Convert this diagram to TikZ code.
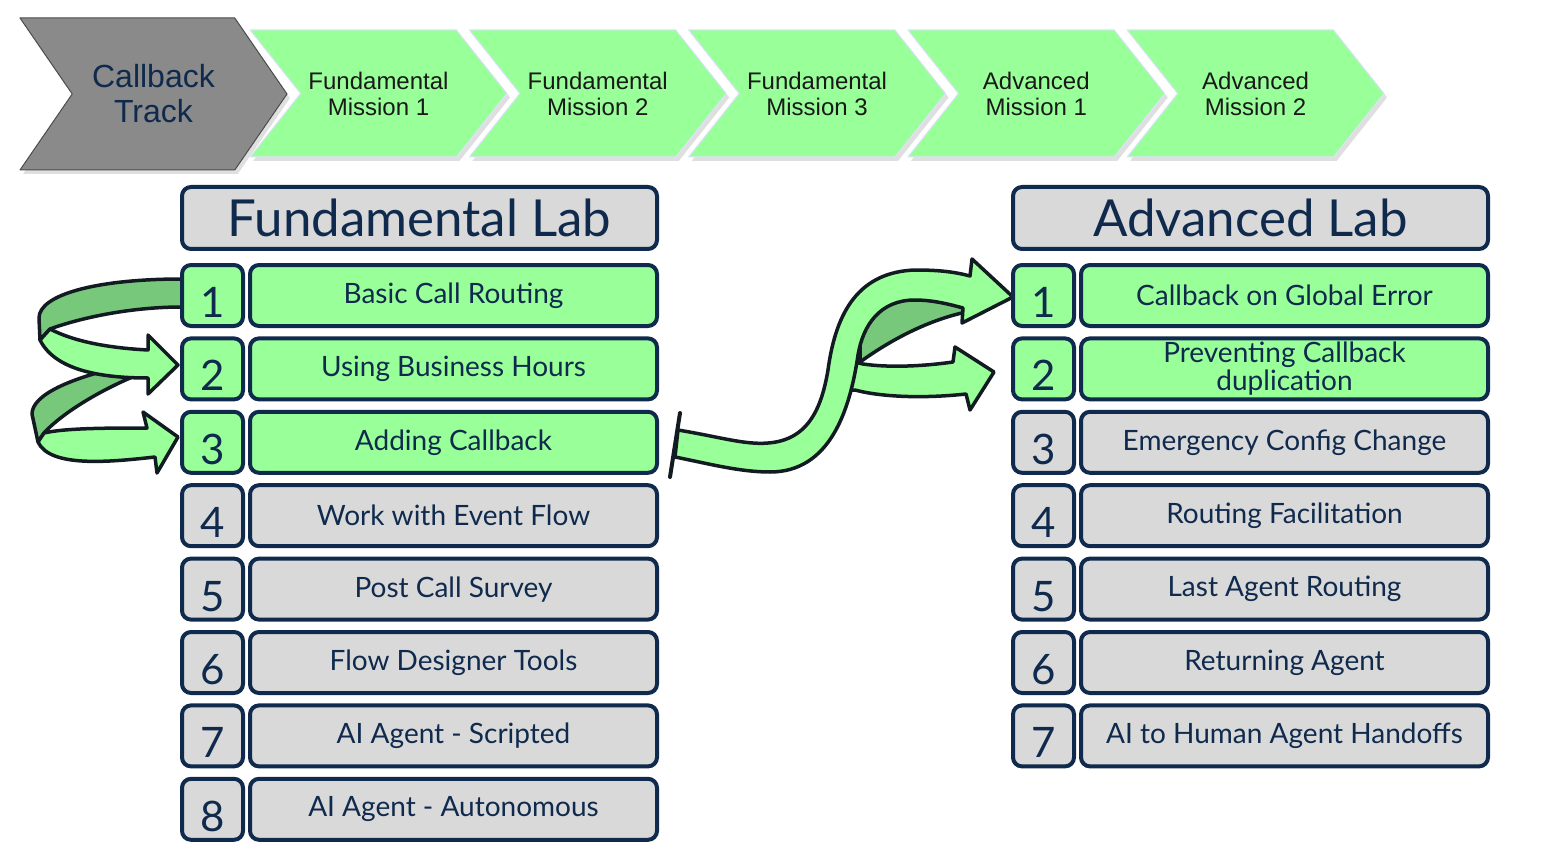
\documentclass[tikz,border=0pt]{standalone}
\usepackage{fontspec}
\setmainfont{Lato}
\newfontfamily\chevronfont{Liberation Sans}
\usetikzlibrary{positioning, shapes.symbols, shadows}

\definecolor{labgreen}{HTML}{99FF99}
\definecolor{bandgreen}{HTML}{78C87C}
\definecolor{labgray}{HTML}{D9D9D9}
\definecolor{labnavy}{HTML}{0F2A4D}
\definecolor{arrowink}{HTML}{131B22}
\definecolor{trackgray}{HTML}{8A8A8A}

\begin{document}
\begin{tikzpicture}[x=1pt,y=-1pt,node distance=8.4pt and 3pt,line join=round]

		\tikzset{num box/.style={draw=labnavy, line width=4pt,
				rounded corners=9pt, minimum width=61pt, minimum height=61pt,
				inner sep=0pt, text height=44pt, text depth=0pt,
				font=\fontsize{42}{42}\selectfont, text=labnavy}}
		\tikzset{item box/.style={draw=labnavy, line width=4pt,
				rounded corners=9pt, minimum width=407pt, minimum height=61pt,
				inner sep=0pt, align=center,
				font=\fontsize{28}{28}\selectfont, text=labnavy}}
		\tikzset{lab title/.style={item box, fill=labgray,
				minimum width=475pt, minimum height=62pt,
				font=\fontsize{51}{51}\selectfont}}
		\tikzset{done/.style={fill=labgreen}}
		\tikzset{todo/.style={fill=labgray}}
		\tikzset{mission/.style={signal, signal to=east, signal from=west,
				signal pointer angle=103, fill=labgreen, draw=blue!12,
				line width=1pt, minimum width=257pt, minimum height=127pt,
				inner sep=0pt, align=center, text=black!90,
				font=\chevronfont\fontsize{24}{26}\selectfont,
				drop shadow={shadow xshift=3pt, shadow yshift=-4pt, opacity=.25}}}
		\tikzset{track/.style={mission, fill=trackgray, draw=gray!60!black,
				signal pointer angle=111, minimum width=267pt,
				minimum height=152pt, text=labnavy,
				font=\chevronfont\fontsize{32}{35}\selectfont}}
		\tikzset{band/.style={draw=arrowink, line width=3.5pt, fill=labgreen}}
		\tikzset{band back/.style={band, fill=bandgreen}}

	\useasboundingbox (0,0) rectangle (1554,850);

	% top track
	\node[track] (CT) at (153.5,94) {Callback\\Track};
	\node[mission] (M1) at (378.5,93.5) {Fundamental\\Mission 1};
	\node[mission, right=11.5pt of M1] (M2) {Fundamental\\Mission 2};
	\node[mission, right=11.5pt of M2] (M3) {Fundamental\\Mission 3};
	\node[mission, right=11.5pt of M3] (M4) {Advanced\\Mission 1};
	\node[mission, right=11.5pt of M4] (M5) {Advanced\\Mission 2};

	% loops on the left
	\draw[band back] (182,279) .. controls (95,279) and (39,295) .. (39,318)
		-- (40,340) -- (50,329) .. controls (80,318) and (130,307) .. (182,307) -- cycle;
	\draw[band back] (125,366) .. controls (70,378) and (32,395) .. (32,414)
		-- (38,442) -- (44,433) .. controls (65,410) and (110,385) .. (145,372) -- cycle;
	\draw[band] (50,329) .. controls (75,342) and (110,348) .. (148,350)
		-- (148,335) -- (178,365) -- (148,394) -- (148,378)
		.. controls (100,378) and (55,370) .. (40,340) -- cycle;
	\draw[band] (44,433) .. controls (65,428) and (110,428) .. (147,428)
		-- (143,412) -- (178,437) -- (157,473) -- (155,457)
		.. controls (110,462) and (50,468) .. (38,442) -- cycle;

	% jump to the advanced lab
	\draw[band back] (860,362) .. controls (895,337) and (930,320) .. (966,312)
		-- (966,295) -- (900,290) -- (860,320) -- cycle;
	\draw[band] (845,360) -- (863,364) .. controls (890,368) and (925,366) .. (953,362)
		-- (955,347) -- (994,372) -- (970,410) -- (966,394)
		.. controls (930,398) and (885,398) .. (855,390) -- (845,390) -- cycle;
	\draw[band] (678,430) .. controls (720,437) and (745,445) .. (768,443)
		.. controls (810,440) and (822,405) .. (828,370)
		.. controls (836,310) and (860,272) .. (915,270)
		.. controls (940,270) and (955,272) .. (970,276)
		-- (972,259) -- (1013,297) -- (962,323) -- (963,308)
		.. controls (945,303) and (930,300) .. (915,300)
		.. controls (880,300) and (863,325) .. (858,355)
		.. controls (850,410) and (830,472) .. (770,472)
		.. controls (740,472) and (710,464) .. (675,457) -- cycle;
	\draw[arrowink, line width=4pt, line cap=round] (680,413) -- (670,477);

	% fundamental lab
	\node[lab title] (FL) at (419.5,218) {Fundamental Lab};
	\node[num box, done, below right=12pt and 0pt of FL.south west] (F1) {1};
	\node[item box, done, right=of F1] (F1t) {Basic Call Routing};
	\node[num box, done, below=of F1] (F2) {2};
	\node[item box, done, right=of F2] (F2t) {Using Business Hours};
	\node[num box, done, below=of F2] (F3) {3};
	\node[item box, done, right=of F3] (F3t) {Adding Callback};
	\node[num box, todo, below=of F3] (F4) {4};
	\node[item box, todo, right=of F4] (F4t) {Work with Event Flow};
	\node[num box, todo, below=of F4] (F5) {5};
	\node[item box, todo, right=of F5] (F5t) {Post Call Survey};
	\node[num box, todo, below=of F5] (F6) {6};
	\node[item box, todo, right=of F6] (F6t) {Flow Designer Tools};
	\node[num box, todo, below=of F6] (F7) {7};
	\node[item box, todo, right=of F7] (F7t) {AI Agent - Scripted};
	\node[num box, todo, below=of F7] (F8) {8};
	\node[item box, todo, right=of F8] (F8t) {AI Agent - Autonomous};

	% advanced lab
	\node[lab title] (AL) at (1250.5,218) {Advanced Lab};
	\node[num box, done, below right=12pt and 0pt of AL.south west] (A1) {1};
	\node[item box, done, right=of A1] (A1t) {Callback on Global Error};
	\node[num box, done, below=of A1] (A2) {2};
	\node[item box, done, right=of A2] (A2t) {Preventing Callback\\duplication};
	\node[num box, todo, below=of A2] (A3) {3};
	\node[item box, todo, right=of A3] (A3t) {Emergency Config Change};
	\node[num box, todo, below=of A3] (A4) {4};
	\node[item box, todo, right=of A4] (A4t) {Routing Facilitation};
	\node[num box, todo, below=of A4] (A5) {5};
	\node[item box, todo, right=of A5] (A5t) {Last Agent Routing};
	\node[num box, todo, below=of A5] (A6) {6};
	\node[item box, todo, right=of A6] (A6t) {Returning Agent};
	\node[num box, todo, below=of A6] (A7) {7};
	\node[item box, todo, right=of A7] (A7t) {AI to Human Agent Handoffs};
\end{tikzpicture}
\end{document}
